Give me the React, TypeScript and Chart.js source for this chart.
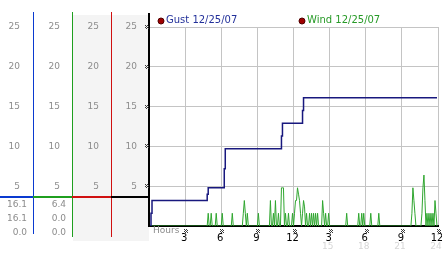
import React, { useEffect, useRef } from 'react';
import { Chart, registerables } from 'chart.js';

Chart.register(...registerables);

// ---------- data ----------
const gustLabel = 'Gust 12/25/07';
const windLabel = 'Wind 12/25/07';

// x axis ticks (hours) and their labels
const hourTicks = [0, 3, 6, 9, 12, 15, 18, 21, 24];
const hourLabels = ['', '3', '6', '9', '12', '3', '6', '9', '12'];
const hour24Labels = ['', '', '', '', '', '15', '18', '21', '24'];

// gust: step changes (minutes after midnight -> mph)
const gustMinutes = [0, 10, 15, 290, 295, 375, 380, 660, 665, 765, 770, 1435];
const gustValues = [0, 1.6, 3.2, 4.0, 4.8, 7.2, 9.7, 11.3, 12.9, 14.5, 16.1, 16.1];

// wind: 5-minute samples, one row per hour
const windStepMinutes = 5;
const windValues = [
  0, 0, 0, 0, 0, 0, 0, 0, 0, 0, 0, 0, // 0h
  0, 0, 0, 0, 0, 0, 0, 0, 0, 0, 0, 0, // 1h
  0, 0, 0, 0, 0, 0, 0, 0, 0, 0, 0, 0, // 2h
  0, 0, 0, 0, 0, 0, 0, 0, 0, 0, 0, 0, // 3h
  0, 0, 0, 0, 0, 0, 0, 0, 0, 0, 0, 1.6, // 4h
  0, 0, 1.6, 0, 0, 0, 0, 1.6, 0, 0, 0, 0, // 5h
  0, 1.6, 0, 0, 0, 0, 0, 0, 0, 0, 0, 1.6, // 6h
  0, 0, 0, 0, 0, 0, 0, 0, 0, 0, 1.6, 3.2, // 7h
  1.6, 0, 1.6, 0, 0, 0, 0, 0, 0, 0, 0, 0, // 8h
  0, 1.6, 0, 0, 0, 0, 0, 0, 0, 0, 0, 0, // 9h
  0, 3.2, 0, 0, 1.6, 0, 3.2, 0, 0, 1.6, 0, 0, // 10h
  4.8, 4.8, 4.8, 0, 1.6, 0, 0, 1.6, 0, 0, 0, 1.6, // 11h
  0, 1.6, 3.2, 3.2, 4.8, 4.0, 3.2, 1.6, 0, 1.6, 3.2, 2.4, // 12h
  0, 1.6, 0, 0, 1.6, 0, 1.6, 0, 1.6, 0, 1.6, 0, // 13h
  1.6, 0, 0, 0, 0, 3.2, 1.6, 0, 1.6, 0, 0, 1.6, // 14h
  0, 0, 0, 0, 0, 0, 0, 0, 0, 0, 0, 0, // 15h
  0, 0, 0, 0, 0, 1.6, 0, 0, 0, 0, 0, 0, // 16h
  0, 0, 0, 0, 0, 1.6, 0, 0, 1.6, 0, 1.6, 0, // 17h
  0, 0, 0, 0, 0, 1.6, 0, 0, 0, 0, 0, 0, // 18h
  0, 1.6, 0, 0, 0, 0, 0, 0, 0, 0, 0, 0, // 19h
  0, 0, 0, 0, 0, 0, 0, 0, 0, 0, 0, 0, // 20h
  0, 0, 0, 0, 0, 0, 0, 0, 0, 0, 1.6, 4.8, // 21h
  3.2, 1.6, 0, 0, 0, 0, 0, 0, 1.6, 4.8, 6.4, 3.2, // 22h
  0, 1.6, 0, 1.6, 0, 1.6, 0, 1.6, 0, 3.2, 1.6, 0, // 23h
];

// ---------- styles ----------
const FONT = '"DejaVu Sans", Verdana, sans-serif';
const LABEL_GRAY = '#8c8c8c';
const GRID = '#c4c4c4';
const PANEL_GRAY = '#f4f4f4';
const BLUE = '#0a3ad0';
const GREEN = '#1f9f1f';
const RED = '#d01010';
const GUST_LINE = '#18187e';
const WIND_LINE = '#2fa62f';
const legendTextColors = ['#22309a', '#279a27'];

const stats = (vals: number[]) => [
  Math.max(...vals),
  vals[vals.length - 1],
  Math.min(...vals),
];

const leftAxis = (weight: number, width: number, pad: number, withGrid: boolean) => ({
  type: 'linear' as const,
  position: 'left' as const,
  min: 0,
  max: 25,
  weight,
  ticks: {
    stepSize: 5,
    padding: pad,
    color: LABEL_GRAY,
    font: { family: FONT, size: 9 },
    callback: (v: any) => (Number(v) === 0 ? '' : String(v)),
  },
  grid: withGrid
    ? { color: GRID, drawTicks: false, lineWidth: 1 }
    : { display: false, drawTicks: false, tickLength: 0 },
  border: { display: false },
  afterFit: (s: any) => {
    s.width = width;
  },
});

function checker(ctx: CanvasRenderingContext2D, cx: number, cy: number) {
  for (let i = 0; i < 4; i++)
    for (let j = 0; j < 4; j++)
      if ((i + j) % 2 === 0) ctx.fillRect(cx - 2 + i, cy - 2 + j, 1, 1);
}

const panelPlugin = {
  id: 'panelPlugin',
  beforeDraw(chart: any) {
    const { ctx, chartArea, scales } = chart;
    ctx.save();
    ctx.fillStyle = '#ffffff';
    ctx.fillRect(0, 0, chart.width, chart.height);
    ctx.fillStyle = PANEL_GRAY;
    const x0 = Math.round(scales.yW.right) + 1;
    ctx.fillRect(x0, 15, chartArea.left - x0, 226);
    ctx.restore();
  },
  afterDraw(chart: any) {
    const { ctx, chartArea, scales } = chart;
    const { left, top, bottom } = chartArea;
    ctx.save();
    const cols = [scales.yG, scales.yW, scales.yR, scales.yB];
    const colColors = [BLUE, GREEN, RED, '#000000'];

    // column borders
    ctx.fillStyle = BLUE;
    ctx.fillRect(Math.round(scales.yG.right), 12, 1, 222);
    ctx.fillStyle = GREEN;
    ctx.fillRect(Math.round(scales.yW.right), 12, 1, 225);
    ctx.fillStyle = RED;
    ctx.fillRect(Math.round(scales.yR.right), 12, 1, 225);
    ctx.fillStyle = '#000000';
    ctx.fillRect(Math.round(left) - 1, 13, 2, Math.round(bottom) - 13);

    // separator
    const sepY = Math.round(bottom) - 30;
    cols.forEach((s, i) => {
      ctx.fillStyle = colColors[i];
      const l = i === 0 ? 0 : Math.round(cols[i - 1].right);
      const r = i === 3 ? Math.round(left) - 1 : Math.round(s.right);
      ctx.fillRect(l, sepY, r - l, 2);
    });

    // stats (max, latest, min)
    ctx.font = `9px ${FONT}`;
    ctx.fillStyle = LABEL_GRAY;
    ctx.textAlign = 'right';
    ctx.textBaseline = 'middle';
    const statCols = [stats(gustValues), stats(windValues)];
    statCols.forEach((vals, i) => {
      const x = Math.round(cols[i].right) - 6;
      vals.forEach((v, r) => {
        ctx.fillText(v.toFixed(1), x, sepY + 9 + r * 14);
      });
    });

    // tick markers
    ctx.fillStyle = '#3a3a3a';
    [5, 10, 15, 20, 25].forEach((v) => {
      checker(ctx, Math.round(left) - 2, Math.round(scales.yB.getPixelForValue(v)));
    });
    hourTicks.forEach((h) => {
      if (h === 0) return;
      checker(ctx, Math.round(scales.x.getPixelForValue(h)) + 1, Math.round(bottom) + 5);
    });

    // "Hours"
    ctx.textAlign = 'left';
    ctx.fillStyle = LABEL_GRAY;
    ctx.font = `9px ${FONT}`;
    ctx.fillText('Hours', left + 4, bottom + 5);

    // faint 24h labels
    ctx.textAlign = 'center';
    ctx.fillStyle = '#d6d6d6';
    hourTicks.forEach((h, i) => {
      if (!hour24Labels[i]) return;
      ctx.fillText(hour24Labels[i], scales.x.getPixelForValue(h) - 2, bottom + 21);
    });

    // legend
    ctx.font = `10px ${FONT}`;
    ctx.textAlign = 'left';
    chart.data.datasets.forEach((ds: any, i: number) => {
      const cx = left + 12 + i * 141;
      const cy = top - 6;
      ctx.beginPath();
      ctx.arc(cx, cy, 3, 0, Math.PI * 2);
      ctx.fillStyle = '#a00000';
      ctx.fill();
      ctx.lineWidth = 1;
      ctx.strokeStyle = '#500000';
      ctx.stroke();
      ctx.fillStyle = legendTextColors[i];
      ctx.fillText(ds.label, cx + 5, cy - 0.5);
    });
    ctx.restore();
  },
};

export default function App() {
  const ref = useRef<HTMLCanvasElement>(null);
  useEffect(() => {
    document.body.style.margin = '0';
    const gustData = gustMinutes.map((m, i) => ({ x: m / 60, y: gustValues[i] }));
    const windData = windValues.map((v, i) => ({ x: (i * windStepMinutes) / 60, y: v }));
    const chart = new Chart(ref.current as HTMLCanvasElement, {
      type: 'line',
      data: {
        datasets: [
          {
            label: gustLabel,
            data: gustData,
            borderColor: GUST_LINE,
            borderWidth: 1.5,
            stepped: true,
            pointRadius: 0,
            xAxisID: 'x',
            yAxisID: 'yG',
          },
          {
            label: windLabel,
            data: windData,
            borderColor: WIND_LINE,
            borderWidth: 1,
            pointRadius: 0,
            xAxisID: 'x',
            yAxisID: 'yW',
          },
        ],
      },
      options: {
        animation: false,
        responsive: false,
        events: [],
        layout: { padding: { top: 27, right: 4, left: 0, bottom: 0 } },
        plugins: { legend: { display: false }, tooltip: { enabled: false } },
        scales: {
          x: {
            type: 'linear',
            position: 'bottom',
            min: 0,
            max: 24,
            afterBuildTicks: (s: any) => {
              s.ticks = hourTicks.map((v) => ({ value: v }));
            },
            ticks: {
              autoSkip: false,
              maxRotation: 0,
              padding: 6,
              labelOffset: -1,
              color: '#000000',
              font: { family: FONT, size: 10 },
              callback: (v: any) => hourLabels[hourTicks.indexOf(Number(v))] ?? '',
            },
            grid: { color: GRID, drawTicks: false, lineWidth: 1 },
            border: { color: '#000000', width: 2 },
            afterFit: (s: any) => {
              s.height = 27;
              s.paddingLeft = 0;
              s.paddingRight = 0;
            },
          },
          yG: leftAxis(4, 33, 13, false),
          yW: leftAxis(3, 39, 12, false),
          yR: leftAxis(2, 39, 12, false),
          yB: leftAxis(1, 38, 12, true),
        } as any,
      },
      plugins: [panelPlugin],
    } as any);
    return () => chart.destroy();
  }, []);
  return (
    <div style={{ width: 442, height: 253 }}>
      <canvas ref={ref} width={442} height={253} style={{ display: 'block', width: 442, height: 253 }} />
    </div>
  );
}
